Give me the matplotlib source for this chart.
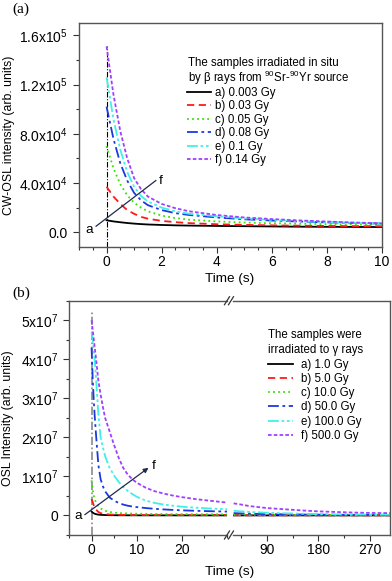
import matplotlib
matplotlib.use('Agg')
import matplotlib.pyplot as plt
from matplotlib.ticker import MultipleLocator, FixedLocator, FuncFormatter
from matplotlib.lines import Line2D
import math

plt.rcParams['font.family'] = ['Liberation Sans', 'DejaVu Sans']
plt.rcParams['mathtext.fontset'] = 'custom'
plt.rcParams['mathtext.rm'] = 'Liberation Sans'
plt.rcParams['mathtext.it'] = 'Liberation Sans:italic'

# ---- panel (a): beta irradiation in situ ----
t_a = [0, 0.25, 0.5, 0.75, 1, 1.25, 1.5, 2, 2.5, 3, 4, 5, 6, 7, 8, 9, 10]
a_003 = [9.7e3, 8.8e3, 8.1e3, 7.5e3, 7.0e3, 6.6e3, 6.3e3, 5.9e3, 5.6e3, 5.4e3, 5.1e3, 4.9e3, 4.7e3, 4.5e3, 4.4e3, 4.3e3, 4.2e3]
a_03 = [3.7e4, 2.9e4, 2.3e4, 1.8e4, 1.5e4, 1.25e4, 1.1e4, 9.2e3, 8.2e3, 7.4e3, 6.5e3, 6.0e3, 5.6e3, 5.3e3, 5.1e3, 5.0e3, 4.9e3]
a_05 = [7.0e4, 5.2e4, 3.9e4, 3.0e4, 2.4e4, 2.0e4, 1.7e4, 1.35e4, 1.15e4, 1.02e4, 8.8e3, 7.9e3, 7.3e3, 6.9e3, 6.6e3, 6.3e3, 6.1e3]
a_08 = [1.02e5, 7.6e4, 5.6e4, 4.2e4, 3.2e4, 2.6e4, 2.2e4, 1.8e4, 1.55e4, 1.4e4, 1.2e4, 1.05e4, 9.5e3, 8.7e3, 8.0e3, 7.5e3, 7.0e3]
a_1 = [1.26e5, 9.2e4, 6.7e4, 4.9e4, 3.7e4, 2.95e4, 2.5e4, 2.0e4, 1.7e4, 1.5e4, 1.3e4, 1.12e4, 1.0e4, 9.0e3, 8.2e3, 7.6e3, 7.0e3]
a_14 = [1.51e5, 1.12e5, 8.2e4, 6.0e4, 4.4e4, 3.5e4, 2.9e4, 2.3e4, 1.95e4, 1.7e4, 1.4e4, 1.2e4, 1.07e4, 9.6e3, 8.7e3, 7.9e3, 7.2e3]
labels_a = ['a) 0.003 Gy', 'b) 0.03 Gy', 'c) 0.05 Gy', 'd) 0.08 Gy', 'e) 0.1 Gy', 'f) 0.14 Gy']
title_a = ['The samples irradiated in situ', 'by \u03b2 rays from $^{90}$Sr-$^{90}$Yr source']

# ---- panel (b): gamma irradiation, broken time axis ----
t_b = [0, 0.25, 0.5, 0.75, 1, 1.5, 2, 2.5, 3, 4, 5, 6, 7, 8, 9, 10, 12, 14, 16, 18, 20, 23, 26, 30]
b_1 = [1.0e6, 7.5e5, 5.5e5, 4.2e5, 3.3e5, 2.2e5, 1.6e5, 1.3e5, 1.1e5, 8e4, 6.5e4, 5.5e4, 5e4, 4.6e4, 4.3e4, 4e4, 3.6e4, 3.3e4, 3.1e4, 3e4, 2.9e4, 2.7e4, 2.6e4, 2.5e4]
b_5 = [4.2e6, 3.4e6, 2.6e6, 2.0e6, 1.5e6, 9e5, 6e5, 4.5e5, 3.5e5, 2.5e5, 2e5, 1.7e5, 1.5e5, 1.4e5, 1.3e5, 1.2e5, 1.1e5, 1.05e5, 1e5, 9.5e4, 9e4, 8.5e4, 8.2e4, 8e4]
b_10 = [9.0e6, 6.5e6, 5.0e6, 4.0e6, 3.3e6, 2.4e6, 1.8e6, 1.45e6, 1.2e6, 9e5, 7.2e5, 6.3e5, 5.7e5, 5.2e5, 4.8e5, 4.5e5, 4.2e5, 3.9e5, 3.7e5, 3.5e5, 3.4e5, 3.2e5, 3.1e5, 3.0e5]
b_50 = [4.3e7, 3.5e7, 2.9e7, 2.45e7, 2.05e7, 1.3e7, 9.3e6, 7.5e6, 6.2e6, 4.6e6, 3.8e6, 3.2e6, 2.8e6, 2.5e6, 2.3e6, 2.15e6, 1.9e6, 1.7e6, 1.55e6, 1.42e6, 1.32e6, 1.2e6, 1.1e6, 1.0e6]
b_100 = [4.7e7, 4.5e7, 4.2e7, 3.9e7, 3.5e7, 2.6e7, 2.0e7, 1.75e7, 1.52e7, 1.22e7, 1.02e7, 8.6e6, 7.3e6, 6.3e6, 5.5e6, 4.8e6, 3.8e6, 3.2e6, 2.8e6, 2.5e6, 2.25e6, 2.0e6, 1.8e6, 1.6e6]
b_500 = [5.0e7, 4.75e7, 4.5e7, 4.25e7, 4.0e7, 3.45e7, 3.1e7, 2.78e7, 2.5e7, 2.15e7, 1.8e7, 1.48e7, 1.22e7, 1.05e7, 9.3e6, 8.4e6, 7.1e6, 6.2e6, 5.6e6, 5.1e6, 4.7e6, 4.2e6, 3.8e6, 3.3e6]

t_b2 = [32, 45, 60, 90, 120, 150, 180, 210, 240, 270, 305]
b2_1 = [2.0e4, 1.9e4, 1.8e4, 1.7e4, 1.6e4, 1.5e4, 1.4e4, 1.3e4, 1.2e4, 1.1e4, 1.0e4]
b2_5 = [7.0e4, 6.5e4, 6.0e4, 5.5e4, 5.0e4, 4.6e4, 4.2e4, 3.9e4, 3.6e4, 3.3e4, 3.0e4]
b2_10 = [2.0e5, 1.9e5, 1.8e5, 1.6e5, 1.5e5, 1.4e5, 1.3e5, 1.2e5, 1.1e5, 1.0e5, 1.0e5]
b2_50 = [6.0e5, 5.3e5, 4.6e5, 3.6e5, 3.0e5, 2.5e5, 2.1e5, 1.8e5, 1.6e5, 1.4e5, 1.3e5]
b2_100 = [1.2e6, 1.05e6, 9.0e5, 7.0e5, 5.6e5, 4.5e5, 3.7e5, 3.0e5, 2.5e5, 2.2e5, 2.0e5]
b2_500 = [3.1e6, 2.8e6, 2.4e6, 1.9e6, 1.6e6, 1.3e6, 1.05e6, 9.0e5, 7.5e5, 6.5e5, 6.0e5]
labels_b = ['a) 1.0 Gy', 'b) 5.0 Gy', 'c) 10.0 Gy', 'd) 50.0 Gy', 'e) 100.0 Gy', 'f) 500.0 Gy']
title_b = ['The samples were', 'irradiated to \u03b3 rays']

# line styles for curves a..f
colors = ['black', '#ff1a1a', '#33e600', '#1a3ae0', '#40f0e8', '#a040ff']
dashes = [(), (4, 2.5), (1, 1.8), (6, 2, 1.5, 2), (6, 1.5, 1.5, 1.5, 1.5, 1.5), (2, 1.2)]

W, H = 392, 581
FS_TICK = 10
FS_LAB = 9.7
FS_YLAB = 8.8
FS_LEG = 8.3


def fx(px):
    return px / W


def fy(py):
    return 1 - py / H


def style(ax):
    for s in ax.spines.values():
        s.set_color('#555555')
        s.set_linewidth(1.0)
    ax.tick_params(which='both', direction='out', color='#333333', top=False, right=False,
                   labelsize=FS_TICK)
    ax.tick_params(axis='x', pad=2)
    ax.tick_params(axis='y', pad=4)
    ax.tick_params(which='major', length=4, width=0.8)
    ax.tick_params(which='minor', length=2.3, width=0.8)


def fmt_a(v, pos):
    if abs(v) < 1:
        return '0.0'
    e = int(math.floor(math.log10(abs(v))))
    return '%.1fx10$^{%d}$' % (v / 10 ** e, e)


def fmt_b(v, pos):
    if abs(v) < 1:
        return '0'
    e = int(math.floor(math.log10(abs(v))))
    return '%dx10$^{%d}$' % (round(v / 10 ** e), e)


fig = plt.figure(figsize=(W / 100, H / 100), dpi=100)

# ---------------- (a) ----------------
ax = fig.add_axes([fx(79), fy(247), fx(382) - fx(79), fy(23) - fy(247)])
style(ax)
ylim_a = (-1.2e4, 1.7e5)
ax.plot([0, 0], [ylim_a[0], 1.51e5], color='black', lw=0.8, dashes=(5, 1.5, 1, 1.5))
series_a = [a_003, a_03, a_05, a_08, a_1, a_14]
for ys, c, d, lab in zip(series_a, colors, dashes, labels_a):
    ax.plot(t_a, ys, color=c, lw=1.3, dashes=d, label=lab)
ax.plot([-0.38, 1.79], [4.9e3, 4.2e4], color='#1f2a4d', lw=0.9)
ax.text(-0.5, 2.2e3, 'a', fontsize=FS_LAB, ha='right', va='center')
ax.text(1.88, 4.2e4, 'f', fontsize=FS_LAB, ha='left', va='center')
ax.set_xlim(-1, 10)
ax.set_ylim(*ylim_a)
ax.xaxis.set_major_locator(MultipleLocator(2))
ax.xaxis.set_minor_locator(MultipleLocator(0.5))
ax.yaxis.set_major_locator(MultipleLocator(4e4))
ax.yaxis.set_minor_locator(MultipleLocator(2e4))
ax.yaxis.set_major_formatter(FuncFormatter(fmt_a))
ax.set_ylabel('CW-OSL intensity (arb. units)', fontsize=FS_YLAB)
ax.yaxis.set_label_coords(-0.212, 0.5)
for i, line in enumerate(title_a):
    fig.text(fx(188), fy(62.7 + 15 * i), line, fontsize=FS_LEG, ha='left', va='center')
leg = ax.legend(loc='upper left', bbox_to_anchor=(0.357, 0.714), frameon=False, fontsize=FS_LEG,
                handlelength=2.1, handletextpad=0.3, labelspacing=0.12,
                borderpad=0, borderaxespad=0)
fig.text(fx(230), fy(279), 'Time (s)', fontsize=FS_LAB, ha='center', va='center')
fig.text(fx(12), fy(9), '(a)', fontsize=11, family='Liberation Serif', va='center')

# ---------------- (b) ----------------
ylim_b = (-5e6, 5.5e7)
ax1 = fig.add_axes([fx(69), fy(535), fx(227) - fx(69), fy(300.7) - fy(535)])
ax2 = fig.add_axes([fx(232.5), fy(535), fx(390) - fx(232.5), fy(300.7) - fy(535)])
style(ax1)
style(ax2)
ax1.spines['right'].set_visible(False)
ax2.spines['left'].set_visible(False)
ax2.tick_params(which='both', left=False, labelleft=False)

ax1.plot([0, 0], [ylim_b[0], 5.25e7], color='#8a8a8a', lw=1.2, dashes=(5, 1.5, 1, 1.5))
series_b = [b_1, b_5, b_10, b_50, b_100, b_500]
series_b2 = [b2_1, b2_5, b2_10, b2_50, b2_100, b2_500]
for ys, ys2, c, d, lab in zip(series_b, series_b2, colors, dashes, labels_b):
    ax1.plot(t_b, ys, color=c, lw=1.3, dashes=d)
    ax2.plot(t_b2, ys2, color=c, lw=1.3, dashes=d, label=lab)
ax1.annotate('', xy=(12.6, 1.22e7), xytext=(-1.5, 2e5),
             arrowprops=dict(arrowstyle='-|>', color='#1f2a4d', lw=0.9, mutation_scale=7,
                             shrinkA=0, shrinkB=0))
ax1.text(-2.2, -2e5, 'a', fontsize=FS_LAB, ha='right', va='center')
ax1.text(13.4, 1.26e7, 'f', fontsize=FS_LAB, ha='left', va='center')

ax1.set_xlim(-5, 30)
ax2.set_xlim(30, 305)
for a_ in (ax1, ax2):
    a_.set_ylim(*ylim_b)
ax1.xaxis.set_major_locator(FixedLocator([0, 10, 20]))
ax1.xaxis.set_minor_locator(MultipleLocator(5))
ax2.xaxis.set_major_locator(FixedLocator([90, 180, 270]))
ax2.xaxis.set_minor_locator(FixedLocator([45, 135, 225]))
ax1.yaxis.set_major_locator(MultipleLocator(1e7))
ax1.yaxis.set_minor_locator(MultipleLocator(5e6))
ax1.yaxis.set_major_formatter(FuncFormatter(fmt_b))
ax1.set_ylabel('OSL Intensity (arb. units)', fontsize=FS_YLAB)
ax1.yaxis.set_label_coords(-0.345, 0.5)

for i, line in enumerate(title_b):
    fig.text(fx(268), fy(335 + 15 * i), line, fontsize=FS_LEG, ha='left', va='center')
leg2 = ax2.legend(loc='upper left', bbox_to_anchor=(0.225, 0.753), frameon=False,
                  fontsize=FS_LEG, handlelength=2.2, handletextpad=0.7, labelspacing=0.2,
                  borderpad=0, borderaxespad=0)

# axis break marks
for py in (300.7, 535):
    for off in (-2.5, 1.5):
        fig.add_artist(Line2D([fx(229.5 + off - 2.5), fx(229.5 + off + 2.5)],
                              [fy(py + 4), fy(py - 4)], color='#333333', lw=0.9))

fig.text(fx(229.5), fy(572.5), 'Time (s)', fontsize=FS_LAB, ha='center', va='center')
fig.text(fx(12), fy(293), '(b)', fontsize=11, family='Liberation Serif', va='center')

fig.savefig('out.png', dpi=100)
